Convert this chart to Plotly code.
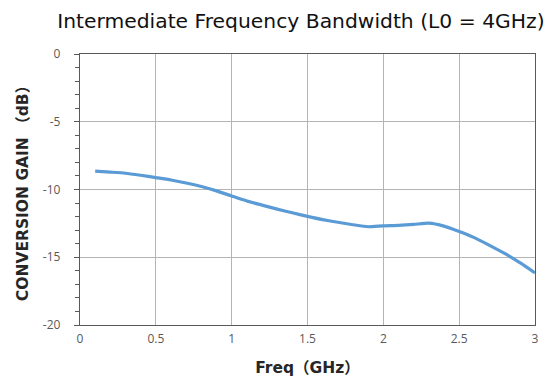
import plotly.graph_objects as go

freq = [0.1, 0.2, 0.3, 0.4, 0.5, 0.6, 0.7, 0.8, 0.9, 1.0, 1.1, 1.2, 1.3, 1.4, 1.5,
        1.6, 1.7, 1.8, 1.9, 2.0, 2.1, 2.2, 2.3, 2.4, 2.5, 2.6, 2.7, 2.8, 2.9, 3.0]
gain = [-8.65, -8.72, -8.8, -8.95, -9.12, -9.3, -9.52, -9.78, -10.1, -10.48, -10.85, -11.15,
        -11.45, -11.72, -11.98, -12.22, -12.42, -12.6, -12.75, -12.68, -12.65, -12.58, -12.48,
        -12.7, -13.1, -13.55, -14.12, -14.72, -15.4, -16.15]

x_ticks = [0, 0.5, 1, 1.5, 2, 2.5, 3]
x_labels = ["0", "0.5", "1", "1.5", "2", "2.5", "3"]
y_ticks = [0, -5, -10, -15, -20]
y_labels = ["0", "-5", "-10", "-15", "-20"]

fig = go.Figure()
fig.add_trace(go.Scatter(x=freq, y=gain, mode="lines",
                         line=dict(color="#5B9BD5", width=3.2, shape="spline", smoothing=0.6),
                         showlegend=False, hoverinfo="skip"))

fig.update_layout(
    width=559, height=383,
    margin=dict(l=72, r=32, t=46, b=66),
    paper_bgcolor="white", plot_bgcolor="white",
    font=dict(family="Open Sans, Noto Sans, sans-serif", color="#595959", size=12),
    title=dict(text="Intermediate Frequency Bandwidth (L0 = 4GHz)",
               font=dict(family="DejaVu Sans, sans-serif", size=20.3, color="#111111"),
               x=0.524, xanchor="center", y=0.966, yanchor="middle"),
)

title_font = dict(family="DejaVu Sans, Noto Sans CJK SC, sans-serif",
                  size=15.5, color="#262626", weight="bold")

fig.update_xaxes(range=[0, 3], tickvals=x_ticks, ticktext=x_labels,
                 showgrid=True, gridcolor="#b4b4b4", gridwidth=1.3,
                 showline=True, linecolor="#595959", linewidth=1.3, mirror=True,
                 ticks="", zeroline=False, ticklabelstandoff=2,
                 title=dict(text="Freq（GHz）", standoff=16, font=title_font))
fig.update_yaxes(range=[-20, 0], tickvals=y_ticks, ticktext=y_labels,
                 showgrid=True, gridcolor="#b4b4b4", gridwidth=1.3,
                 showline=True, linecolor="#595959", linewidth=1.3, mirror=True,
                 ticks="outside", ticklen=5, tickcolor="#595959",
                 minor=dict(dtick=1, ticks="outside", ticklen=4, tickcolor="#595959", showgrid=False),
                 zeroline=False, ticklabelstandoff=11,
                 title=dict(text="CONVERSION GAIN （dB）", standoff=10, font=title_font))

fig.write_html("out.html")
